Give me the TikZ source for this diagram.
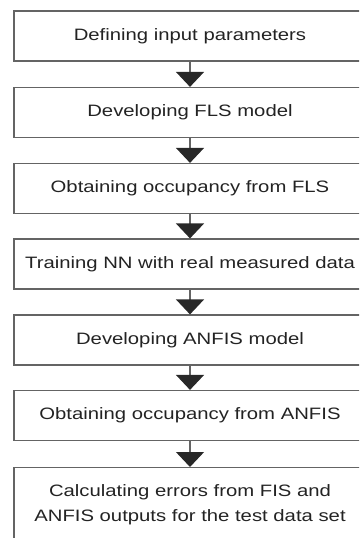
\documentclass[tikz,border=0pt]{standalone}
\usepackage{fontspec}
\setmainfont{Liberation Sans}[FakeStretch=1.23]
\usetikzlibrary{arrows.meta}
\definecolor{boxline}{RGB}{100,100,100}
\definecolor{tri}{RGB}{40,40,40}
\definecolor{txt}{RGB}{35,35,35}
\begin{document}
\begin{tikzpicture}[x=1pt,y=-1pt,
  stepbox/.style={draw=boxline, line width=1.2pt, minimum width=352pt, minimum height=50pt,
    inner sep=0pt, align=center, text=txt, font=\fontsize{16.5}{25}\selectfont},
  conn/.style={draw=boxline, line width=1.2pt, -{Triangle[width=28pt,length=15pt,color=tri,fill=tri]}}]
\useasboundingbox (0,0) rectangle (359,538);
\clip (0,0) rectangle (359,538);
\node[stepbox] (b1) at (190,36) {Defining input parameters};
\node[stepbox] (b2) at (190,112.5) {Developing FLS model};
\node[stepbox] (b3) at (190,188.5) {Obtaining occupancy from FLS};
\node[stepbox] (b4) at (190,264) {Training NN with real measured data};
\node[stepbox] (b5) at (190,340) {Developing ANFIS model};
\node[stepbox] (b6) at (190,415.5) {Obtaining occupancy from ANFIS};
\node[stepbox, minimum height=74pt, anchor=north] (b7) at (190,467) {Calculating errors from FIS and\\ANFIS outputs for the test data set};
\draw[conn] (b1) -- (b2);
\draw[conn] (b2) -- (b3);
\draw[conn] (b3) -- (b4);
\draw[conn] (b4) -- (b5);
\draw[conn] (b5) -- (b6);
\draw[conn] (b6) -- (b7);
\end{tikzpicture}
\end{document}
